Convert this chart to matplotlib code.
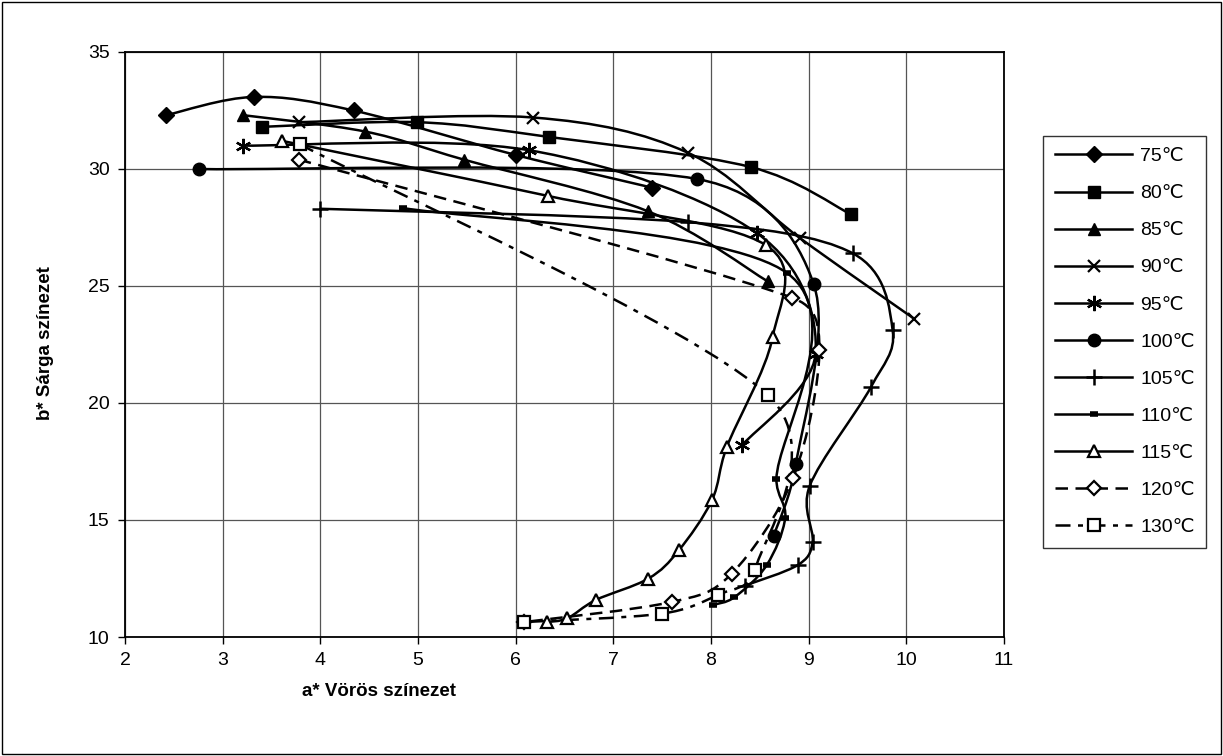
import numpy as np
import matplotlib
matplotlib.use("Agg")
import matplotlib.pyplot as plt
from matplotlib.path import Path
from matplotlib.patches import PathPatch, Rectangle
from matplotlib.lines import Line2D

plt.rcParams['font.family'] = ['Liberation Sans', 'DejaVu Sans']

## Adatok (a*, b*) hőmérsékletenként
labels = ["75℃", "80℃", "85℃", "90℃", "95℃", "100℃", "105℃", "110℃", "115℃", "120℃", "130℃"]

a75 = [2.42, 3.32, 4.34, 6.00, 7.40]
b75 = [32.3, 33.08, 32.5, 30.6, 29.2]
a80 = [3.40, 4.99, 6.34, 8.41, 9.43]
b80 = [31.8, 32.0, 31.37, 30.08, 28.07]
a85 = [3.21, 4.46, 5.47, 7.35, 8.58]
b85 = [32.3, 31.6, 30.4, 28.2, 25.2]
a90 = [3.78, 6.18, 7.76, 8.91, 10.08]
b90 = [32.0, 32.2, 30.7, 27.05, 23.6]
a95 = [3.21, 6.14, 8.47, 9.07, 8.32]
b95 = [31.0, 30.8, 27.26, 22.1, 18.2]
a100 = [2.76, 7.86, 9.05, 8.87, 8.64]
b100 = [30.0, 29.57, 25.1, 17.4, 14.3]
a105 = [4.00, 7.76, 9.45, 9.86, 9.64, 9.01, 9.04, 8.89, 8.35]
b105 = [28.3, 27.73, 26.4, 23.1, 20.7, 16.45, 14.06, 13.08, 12.2]
a110 = [4.85, 8.78, 8.67, 8.76, 8.57, 8.24, 8.02]
b110 = [28.33, 25.55, 16.75, 15.1, 13.07, 11.7, 11.37]
a115 = [3.61, 6.33, 8.56, 8.63, 8.16, 8.01, 7.67, 7.36, 6.82, 6.53, 6.32]
b115 = [31.2, 28.85, 26.75, 22.8, 18.1, 15.85, 13.7, 12.5, 11.58, 10.8, 10.64]
a120 = [3.78, 8.83, 9.11, 8.84, 8.21, 7.60, 6.09]
b120 = [30.4, 24.5, 22.26, 16.8, 12.7, 11.5, 10.64]
a130 = [3.79, 8.58, 8.45, 8.07, 7.50, 6.09]
b130 = [31.06, 20.34, 12.86, 11.8, 11.0, 10.64]

series = [(a75, b75), (a80, b80), (a85, b85), (a90, b90), (a95, b95), (a100, b100),
          (a105, b105), (a110, b110), (a115, b115), (a120, b120), (a130, b130)]

# jelölők / vonalstílus
asterisk = (6, 2, 0)
styles = [
    dict(marker="D", ms=8, mfc="k", ls="-"),
    dict(marker="s", ms=9, mfc="k", ls="-"),
    dict(marker="^", ms=9, mfc="k", ls="-"),
    dict(marker="x", ms=9, mfc="k", ls="-", mew=1.6),
    dict(marker=asterisk, ms=11, mfc="k", ls="-", mew=1.6),
    dict(marker="o", ms=9, mfc="k", ls="-"),
    dict(marker="+", ms=11, mfc="k", ls="-", mew=1.8),
    dict(marker="_", ms=6, mfc="k", ls="-", mew=4),
    dict(marker="^", ms=9, mfc="w", ls="-", mew=1.6),
    dict(marker="D", ms=7, mfc="w", ls=(0, (5, 3)), mew=1.6),
    dict(marker="s", ms=9, mfc="w", ls=(0, (6, 3, 2, 3)), mew=1.6),
]

# pixel/egység arány a simításhoz
sx, sy = 97.7, 23.4


def smooth_path(xs, ys):
    # Excel-szerű simított vonal (Bezier), a fogantyúk hossza korlátozva
    p = np.column_stack([np.array(xs) * sx, np.array(ys) * sy])
    n = len(p)
    verts = [p[0]]
    codes = [Path.MOVETO]
    for i in range(n - 1):
        p0 = p[i - 1] if i > 0 else p[i]
        p3 = p[i + 2] if i + 2 < n else p[i + 1]
        seg = np.linalg.norm(p[i + 1] - p[i])
        h1 = (p[i + 1] - p0) / 6
        h2 = (p3 - p[i]) / 6
        for h in (h1, h2):
            L = np.linalg.norm(h)
            if L > 0.45 * seg:
                h *= 0.45 * seg / L
        verts += [p[i] + h1, p[i + 1] - h2, p[i + 1]]
        codes += [Path.CURVE4] * 3
    verts = np.array(verts) / [sx, sy]
    return Path(verts, codes)


fig = plt.figure(figsize=(12.23, 7.56), dpi=100)
fig.patches.append(Rectangle((0.002, 0.002), 0.996, 0.995, transform=fig.transFigure,
                             fill=False, ec="k", lw=1))
ax = fig.add_axes([125 / 1223, 1 - 637 / 756, (1004 - 125) / 1223, (637 - 52) / 756])

for (xs, ys), st in zip(series, styles):
    ax.add_patch(PathPatch(smooth_path(xs, ys), fill=False, ec="k", lw=1.8, ls=st["ls"], zorder=3))
    ax.plot(xs, ys, ls="none", marker=st["marker"], ms=st["ms"], mfc=st["mfc"], mec="k",
            mew=st.get("mew", 1.0), zorder=4)

ax.set_xlim(2, 11)
ax.set_ylim(10, 35)
ax.set_xticks(range(2, 12))
ax.set_yticks(range(10, 36, 5))
ax.grid(True, color="#555555", lw=0.9)
ax.set_axisbelow(True)
ax.tick_params(labelsize=14, direction="out", length=5, width=1, pad=6)
for s in ax.spines.values():
    s.set_linewidth(1.3)

fig.text(379 / 1223, 1 - 691 / 756, "a* Vörös színezet", ha="center", va="center",
         fontsize=13.5, fontweight="bold")
fig.text(46 / 1223, 1 - 343 / 756, "b* Sárga színezet", ha="center", va="center",
         rotation=90, fontsize=13.5, fontweight="bold")

handles = [Line2D([], [], color="k", lw=1.8, ls=st["ls"], marker=st["marker"], ms=st["ms"],
                  mfc=st["mfc"], mec="k", mew=st.get("mew", 1.0)) for st in styles]
leg = fig.legend(handles, labels, loc="upper left", bbox_to_anchor=(1043 / 1223, 1 - 136 / 756),
                 bbox_transform=fig.transFigure,
                 fontsize=14, handlelength=4.0, frameon=True, fancybox=False,
                 borderaxespad=0, borderpad=0.6, labelspacing=1.0, handletextpad=0.4)
leg.get_frame().set_edgecolor("k")
leg.get_frame().set_linewidth(1)

fig.savefig("out.png", dpi=100)
